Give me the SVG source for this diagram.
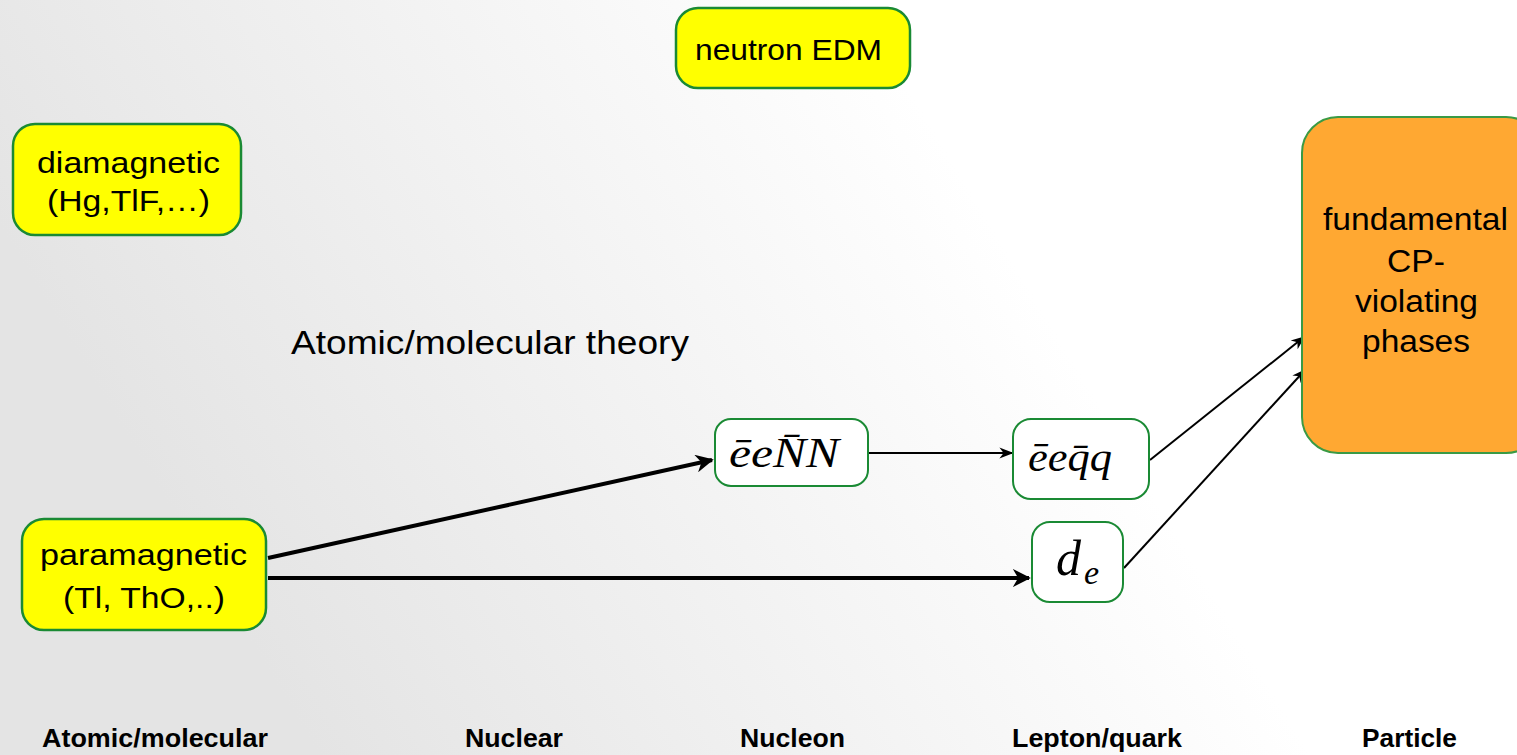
<svg xmlns="http://www.w3.org/2000/svg" width="1517" height="755" viewBox="0 0 1517 755">
<defs>
<linearGradient id="bg" x1="0" y1="0.3" x2="1" y2="0">
<stop offset="0" stop-color="#e4e4e4"/>
<stop offset="0.6" stop-color="#ffffff"/>
<stop offset="1" stop-color="#ffffff"/>
</linearGradient>
<marker id="ah" viewBox="0 0 10 10" refX="9" refY="5" markerWidth="4.5" markerHeight="4.5" orient="auto" markerUnits="strokeWidth">
<path d="M0,0 L10,5 L0,10 L3,5 Z" fill="#000"/>
</marker>
<marker id="ahs" viewBox="0 0 10 10" refX="9" refY="5" markerWidth="7" markerHeight="7" orient="auto" markerUnits="strokeWidth">
<path d="M0,1 L10,5 L0,9 L3,5 Z" fill="#000"/>
</marker>
</defs>
<style>
.yel{fill:#ffff00;stroke:#1a8a34;stroke-width:2.5}
.wht{fill:#ffffff;stroke:#1a8a34;stroke-width:2}
.org{fill:#ffa832;stroke:#3a9a45;stroke-width:2}
.t{font-family:"Liberation Sans",Arial,sans-serif;font-size:30px;fill:#000}
.m{font-family:"Liberation Serif","Times New Roman",serif;font-style:italic;font-size:42px;fill:#000}
.lab{font-family:"Liberation Sans",Arial,sans-serif;font-size:25px;font-weight:bold;fill:#000}
.thick{stroke:#000;stroke-width:4;fill:none}
.thin{stroke:#000;stroke-width:2;fill:none}
</style>
<rect x="0" y="0" width="1517" height="755" fill="url(#bg)"/>

<g id="connectors">
<line class="thick" x1="268" y1="558" x2="712" y2="460" marker-end="url(#ah)"/>
<line class="thick" x1="268" y1="578" x2="1029" y2="578" marker-end="url(#ah)"/>
<line class="thin" x1="869" y1="453" x2="1012" y2="453" marker-end="url(#ahs)"/>
<line class="thin" x1="1150" y1="460" x2="1304" y2="337" marker-end="url(#ahs)"/>
<line class="thin" x1="1124" y1="568" x2="1305" y2="370" marker-end="url(#ahs)"/>
</g>

<g id="neutron-edm">
<rect class="yel" x="676" y="8" width="234" height="80" rx="22"/>
<text class="t" x="695" y="60" textLength="187" lengthAdjust="spacingAndGlyphs">neutron EDM</text>
</g>

<g id="diamagnetic">
<rect class="yel" x="13" y="124" width="228" height="111" rx="22"/>
<text class="t" x="37" y="173" textLength="183" lengthAdjust="spacingAndGlyphs">diamagnetic</text>
<text class="t" x="47" y="211" textLength="163" lengthAdjust="spacingAndGlyphs">(Hg,TlF,…)</text>
</g>

<g id="paramagnetic">
<rect class="yel" x="22" y="519" width="244" height="111" rx="22"/>
<text class="t" x="40" y="565" textLength="207" lengthAdjust="spacingAndGlyphs">paramagnetic</text>
<text class="t" x="63" y="608" textLength="162" lengthAdjust="spacingAndGlyphs">(Tl, ThO,..)</text>
</g>

<g id="theory-label">
<text class="t" x="291" y="354" style="font-size:33px" textLength="398" lengthAdjust="spacingAndGlyphs">Atomic/molecular theory</text>
</g>

<g id="eeNN">
<rect class="wht" x="715" y="419" width="153" height="67" rx="16"/>
<text class="m" x="729" y="467" textLength="110" lengthAdjust="spacingAndGlyphs">ēeN̄N</text>
</g>

<g id="eeqq">
<rect class="wht" x="1013" y="419" width="136" height="80" rx="18"/>
<text class="m" x="1028" y="471" textLength="84" lengthAdjust="spacingAndGlyphs">ēeq̄q</text>
</g>

<g id="de">
<rect class="wht" x="1032" y="522" width="91" height="80" rx="18"/>
<text class="m" x="1056" y="575" style="font-size:50px">d<tspan x="1084" y="584" style="font-size:34px">e</tspan></text>
</g>

<g id="fundamental">
<rect class="org" x="1302" y="117" width="240" height="336" rx="36"/>
<text class="t" x="1323" y="230" style="font-size:31px" textLength="185" lengthAdjust="spacingAndGlyphs">fundamental</text>
<text class="t" x="1387" y="272" style="font-size:31px" textLength="58" lengthAdjust="spacingAndGlyphs">CP-</text>
<text class="t" x="1355" y="312" style="font-size:31px" textLength="123" lengthAdjust="spacingAndGlyphs">violating</text>
<text class="t" x="1362" y="352" style="font-size:31px" textLength="108" lengthAdjust="spacingAndGlyphs">phases</text>
</g>

<g id="bottom-labels">
<text class="lab" x="42" y="747" textLength="226" lengthAdjust="spacingAndGlyphs">Atomic/molecular</text>
<text class="lab" x="465" y="747" textLength="98" lengthAdjust="spacingAndGlyphs">Nuclear</text>
<text class="lab" x="740" y="747" textLength="105" lengthAdjust="spacingAndGlyphs">Nucleon</text>
<text class="lab" x="1012" y="747" textLength="170" lengthAdjust="spacingAndGlyphs">Lepton/quark</text>
<text class="lab" x="1362" y="747" textLength="95" lengthAdjust="spacingAndGlyphs">Particle</text>
</g>
</svg>
